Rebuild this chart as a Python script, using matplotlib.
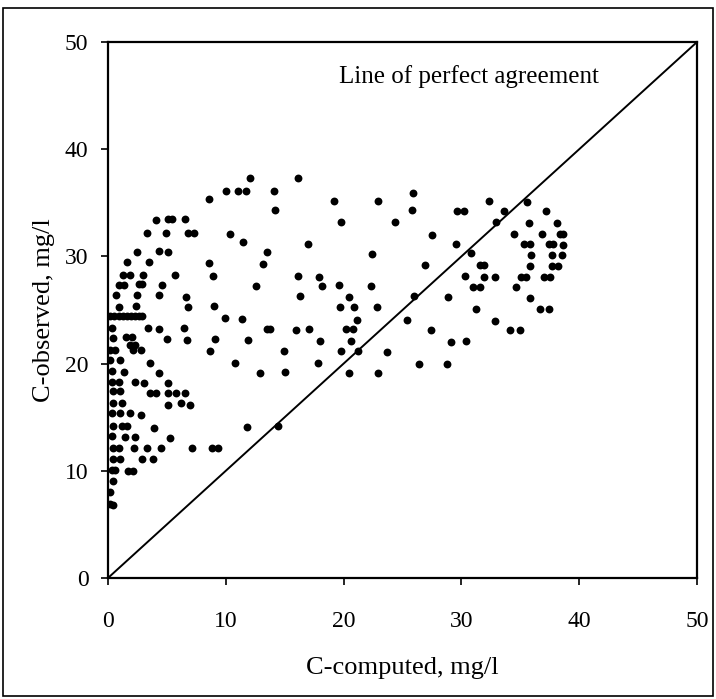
import matplotlib
matplotlib.use("Agg")
import matplotlib.pyplot as plt
from matplotlib.patches import Rectangle

plt.rcParams['font.family'] = ['Liberation Serif', 'DejaVu Serif']

# C-computed (mg/l) values
x_computed = [
    # middle arc
    12.05, 16.1, 8.6, 10.0, 11.06, 11.69, 14.1, 14.2, 19.2, 22.9, 19.8, 10.4, 11.5, 17.0,
    13.5, 22.4, 8.6, 13.2, 8.9, 16.1, 17.9, 12.6, 18.2, 19.6, 22.3, 16.3, 20.5, 9.0,
    19.7, 20.9, 22.8, 9.9, 11.4, 21.1, 13.5, 13.75, 16.0, 17.1, 20.2, 20.8, 9.05, 11.9,
    18.0, 20.6, 8.7, 14.9, 19.75, 21.2, 10.8, 17.8, 12.9, 15.05, 20.5, 22.9,
    # right-middle
    25.9, 25.8, 24.4, 27.5, 29.65, 30.2, 32.3, 33.6, 35.6, 32.9, 29.5, 30.8, 26.9, 31.6,
    31.9, 30.3, 31.9, 32.85, 31.0, 31.6, 26.0, 28.9, 31.2, 25.4, 27.4, 32.85, 34.1, 35.0,
    23.7, 29.1, 30.4, 26.4, 28.75,
    # right cluster
    37.2, 35.7, 38.1, 34.5, 36.8, 38.4, 38.6, 35.3, 35.8, 37.4, 37.8, 38.6, 35.9, 37.7,
    38.5, 35.8, 37.7, 38.2, 35.1, 35.5, 37.0, 37.5, 34.6, 35.85, 36.7, 37.4,
    # left upper
    4.07, 5.1, 5.4, 6.5, 3.3, 4.9, 6.8, 7.3, 2.5, 4.3, 5.1,
    1.64, 3.5, 1.3, 1.9, 3.0, 5.7, 0.9, 1.4, 2.65, 2.9, 4.55, 0.7, 2.5, 4.3, 6.6, 0.9,
    2.4, 6.8,
    0.2, 0.55, 0.9, 1.25, 1.6, 1.95, 2.3, 2.65, 2.9,
    3.4, 4.35, 6.45, 0.3, 0.45, 1.5, 2.0, 5.0, 6.7, 1.9, 2.3, 0.2, 0.6, 2.15, 2.8,
    # left lower
    0.2, 1.0, 3.6, 0.3, 1.4, 4.3, 0.3, 0.9, 2.3, 3.1, 5.07, 0.45, 1.0, 3.6, 4.1, 5.1,
    5.8, 6.5, 0.45, 1.2, 5.1, 6.2, 7.0, 0.3, 1.0, 1.9, 2.8, 0.45, 1.15, 1.6, 3.9, 0.3,
    1.45, 2.3, 5.3,
    0.45, 0.9, 2.2, 3.3, 4.5, 7.1, 8.8, 9.3, 0.45, 1.0, 2.9, 3.85, 0.3, 0.6, 1.7, 2.1,
    0.45, 0.17, 0.17, 0.4,
    11.8, 14.4,
]

# C-observed (mg/l) values
y_observed = [
    37.3, 37.3, 35.4, 36.1, 36.1, 36.1, 36.1, 34.3, 35.2, 35.2, 33.2, 32.1, 31.3, 31.2,
    30.4, 30.2, 29.4, 29.3, 28.2, 28.2, 28.1, 27.2, 27.2, 27.3, 27.2, 26.3, 26.2, 25.4,
    25.3, 25.3, 25.3, 24.3, 24.2, 24.1, 23.2, 23.2, 23.1, 23.2, 23.2, 23.2, 22.3, 22.2,
    22.1, 22.1, 21.2, 21.2, 21.2, 21.2, 20.1, 20.1, 19.15, 19.2, 19.1, 19.1,
    35.9, 34.3, 33.2, 32.0, 34.2, 34.2, 35.2, 34.2, 35.1, 33.2, 31.2, 30.3, 29.2, 29.2,
    29.2, 28.2, 28.05, 28.05, 27.1, 27.1, 26.3, 26.2, 25.1, 24.1, 23.1, 24.0, 23.1, 23.1,
    21.1, 22.05, 22.1, 20.0, 20.0,
    34.2, 33.15, 33.15, 32.1, 32.1, 32.1, 32.1, 31.2, 31.2, 31.2, 31.2, 31.1, 30.1, 30.1,
    30.1, 29.15, 29.15, 29.15, 28.05, 28.05, 28.05, 28.05, 27.1, 26.15, 25.1, 25.1,
    33.4, 33.5, 33.5, 33.5, 32.2, 32.2, 32.2, 32.2, 30.4, 30.5, 30.4,
    29.5, 29.45, 28.3, 28.3, 28.3, 28.3, 27.3, 27.3, 27.4, 27.4, 27.3, 26.4, 26.4, 26.4, 26.2, 25.3,
    25.4, 25.25,
    24.4, 24.4, 24.4, 24.4, 24.4, 24.4, 24.4, 24.4, 24.4,
    23.35, 23.2, 23.35, 23.3, 22.4, 22.45, 22.45, 22.3, 22.2, 21.7, 21.7, 21.3, 21.3, 21.3, 21.3,
    20.3, 20.3, 20.1, 19.3, 19.25, 19.1, 18.3, 18.3, 18.25, 18.15, 18.15, 17.4, 17.4, 17.3, 17.3, 17.3,
    17.3, 17.3, 16.3, 16.3, 16.1, 16.3, 16.1, 15.35, 15.35, 15.35, 15.2, 14.2, 14.2, 14.2, 14.0, 13.25,
    13.2, 13.2, 13.1,
    12.1, 12.1, 12.1, 12.1, 12.1, 12.1, 12.1, 12.1, 11.1, 11.1, 11.1, 11.1, 10.1, 10.1, 10.0, 10.0,
    9.05, 8.0, 6.9, 6.8,
    14.05, 14.2,
]

x_ticks = [0, 10, 20, 30, 40, 50]
y_ticks = [0, 10, 20, 30, 40, 50]
perfect_line = [0, 50]

fig = plt.figure(figsize=(7.16, 6.99), dpi=100)
ax = fig.add_axes([0.1508, 0.1731, 0.8227, 0.7668])

ax.scatter(x_computed, y_observed, s=32, color='black', zorder=3, linewidths=0)
ax.plot(perfect_line, perfect_line, color='black', lw=1.4)

ax.set_xlim(0, 50)
ax.set_ylim(0, 50)
ax.set_xticks(x_ticks)
ax.set_yticks(y_ticks)
ax.tick_params(axis='x', direction='out', length=5, width=1.2, pad=19, labelsize=17)
ax.tick_params(axis='y', direction='out', length=5, width=1.2, pad=9, labelsize=17)
for sp in ax.spines.values():
    sp.set_linewidth(1.6)

ax.set_xlabel('C-computed, mg/l', fontsize=19, labelpad=18)
ax.set_ylabel('C-observed, mg/l', fontsize=19, labelpad=7)

ax.text(0.612, 0.935, 'Line of perfect agreement', transform=ax.transAxes,
        fontsize=18, ha='center', va='center')

fig.patches.append(Rectangle((0.004, 0.005), 0.992, 0.984, transform=fig.transFigure,
                             fill=False, edgecolor='black', lw=1.2))

fig.savefig('out.png', dpi=100)
